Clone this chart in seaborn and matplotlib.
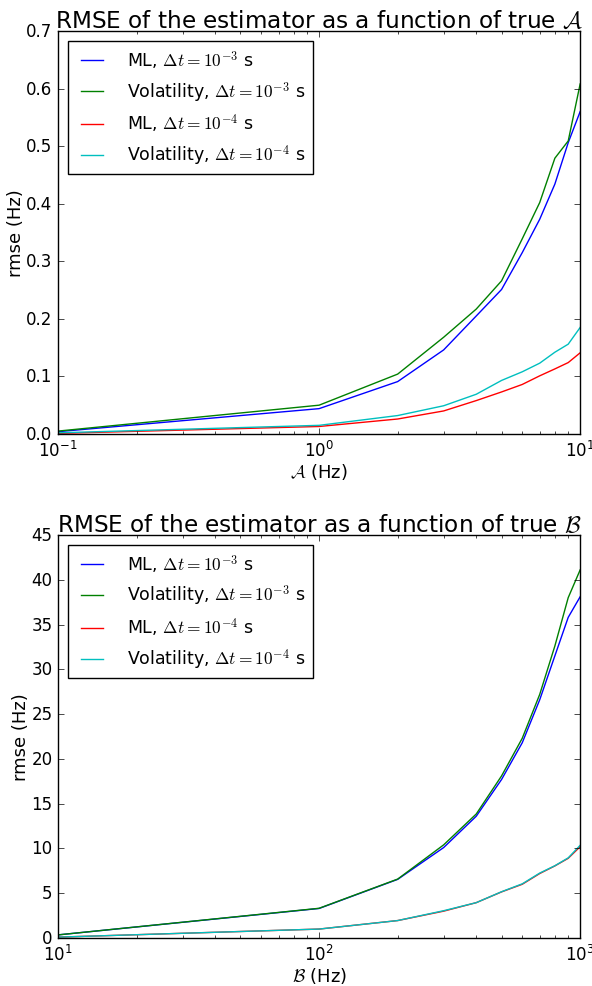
import pandas as pd
import matplotlib
matplotlib.use("Agg")
import matplotlib.pyplot as plt
import seaborn as sns

# top panel: true A (Hz)
a_vals = [0.1, 1, 2, 3, 4, 5, 6, 7, 8, 9, 10]
a_ml_3 = [0.004, 0.044, 0.091, 0.146, 0.205, 0.251, 0.315, 0.373, 0.434, 0.506, 0.560]
a_vol_3 = [0.005, 0.050, 0.104, 0.168, 0.217, 0.266, 0.339, 0.402, 0.479, 0.509, 0.608]
a_ml_4 = [0.001, 0.013, 0.026, 0.040, 0.058, 0.073, 0.086, 0.101, 0.113, 0.124, 0.141]
a_vol_4 = [0.002, 0.015, 0.032, 0.049, 0.069, 0.093, 0.108, 0.123, 0.142, 0.156, 0.185]

# bottom panel: true B (Hz)
b_vals = [10, 100, 200, 300, 400, 500, 600, 700, 800, 900, 1000]
b_ml_3 = [0.35, 3.30, 6.55, 10.1, 13.6, 17.7, 21.8, 26.6, 31.5, 35.8, 38.1]
b_vol_3 = [0.35, 3.32, 6.58, 10.4, 13.85, 18.1, 22.3, 27.2, 32.6, 38.0, 41.1]
b_ml_4 = [0.1, 1.0, 1.95, 3.0, 3.95, 5.15, 6.0, 7.2, 8.05, 8.9, 10.2]
b_vol_4 = [0.1, 1.0, 1.95, 3.05, 3.95, 5.17, 6.05, 7.25, 8.07, 8.95, 10.35]

labels = [r"ML, $\Delta t = 10^{-3}$ s",
          r"Volatility, $\Delta t = 10^{-3}$ s",
          r"ML, $\Delta t = 10^{-4}$ s",
          r"Volatility, $\Delta t = 10^{-4}$ s"]
colors = ["b", "g", "r", "c"]

plt.style.use("classic")
plt.rcParams["figure.facecolor"] = "white"
plt.rcParams["savefig.facecolor"] = "white"

fig = plt.figure(figsize=(5.92, 9.87), dpi=100)
ax1 = fig.add_axes([0.098, 0.5593, 0.882, 0.4083])
ax2 = fig.add_axes([0.098, 0.0486, 0.882, 0.4084])


def style_panel(ax, sym):
    ax.set_xscale("log")
    ax.set_title(r"RMSE of the estimator as a function of true $\mathcal{%s}$" % sym,
                 fontsize=16.7, pad=3)
    ax.set_xlabel(r"$\mathcal{%s}$ (Hz)" % sym, fontsize=13, labelpad=1)
    ax.set_ylabel("rmse (Hz)", fontsize=13, labelpad=1)
    ax.legend(loc="upper left", fontsize=12.5, handlelength=1.9,
              handletextpad=1.1, labelspacing=0.5, borderaxespad=0.6)


for ys, lab, c in zip([a_ml_3, a_vol_3, a_ml_4, a_vol_4], labels, colors):
    sns.lineplot(x=a_vals, y=ys, color=c, label=lab, ax=ax1, lw=1.0)
ax1.set_xlim(0.1, 10)
ax1.set_ylim(0, 0.7)
style_panel(ax1, "A")

for ys, lab, c in zip([b_ml_3, b_vol_3, b_ml_4, b_vol_4], labels, colors):
    sns.lineplot(x=b_vals, y=ys, color=c, label=lab, ax=ax2, lw=1.0)
ax2.set_xlim(10, 1000)
ax2.set_ylim(0, 45)
style_panel(ax2, "B")

fig.savefig("out.png", dpi=100)
